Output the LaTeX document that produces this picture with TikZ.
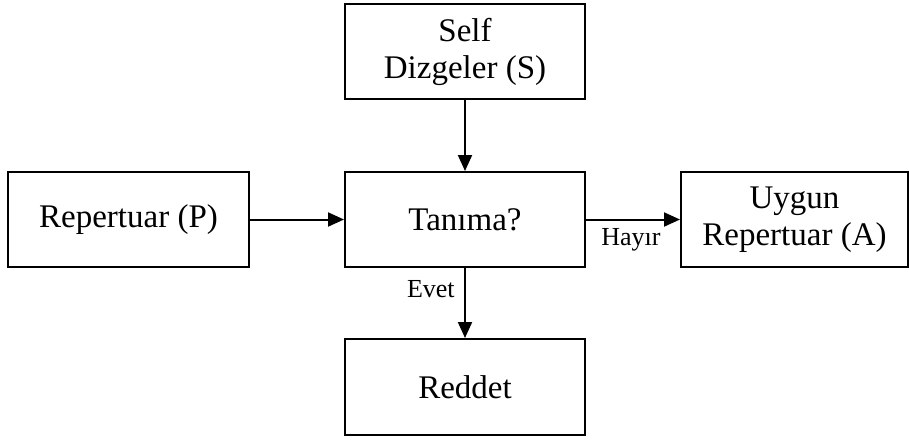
\documentclass[tikz,border=0pt]{standalone}
\usepackage{fontspec}
\setmainfont{Liberation Serif}
\usetikzlibrary{arrows.meta}
\tikzset{
  kutu/.style={draw, rectangle, line width=2pt, align=center, minimum height=95pt, font=\fontsize{33}{37}\selectfont},
  ok/.style={line width=2pt, -{Triangle[length=16pt,width=14pt]}},
  etiket/.style={font=\fontsize{26}{29}\selectfont}
}
\begin{document}
\begin{tikzpicture}[x=1pt, y=-1pt]
\useasboundingbox (0,0) rectangle (909,439);
\node[kutu, minimum width=240pt] (self) at (465,51.5) {Self\\Dizgeler (S)};
\node[kutu, minimum width=241pt] (rep) at (128.5,219.5) {Repertuar (P)};
\node[kutu, minimum width=240pt] (tanima) at (465,219.5) {Tanıma?};
\node[kutu, minimum width=227pt] (uygun) at (794.5,219.5) {Uygun\\Repertuar (A)};
\node[kutu, minimum width=240pt, minimum height=96pt] (reddet) at (465,387) {Reddet};

\draw[ok] (self) -- (tanima);
\draw[ok] (rep) -- (tanima);
\draw[ok] (tanima) -- node[etiket, below=5pt, xshift=-2pt] {Hayır} (uygun);
\draw[ok] (tanima) -- node[etiket, left=6pt, pos=0.3] {Evet} (reddet);
\end{tikzpicture}
\end{document}
